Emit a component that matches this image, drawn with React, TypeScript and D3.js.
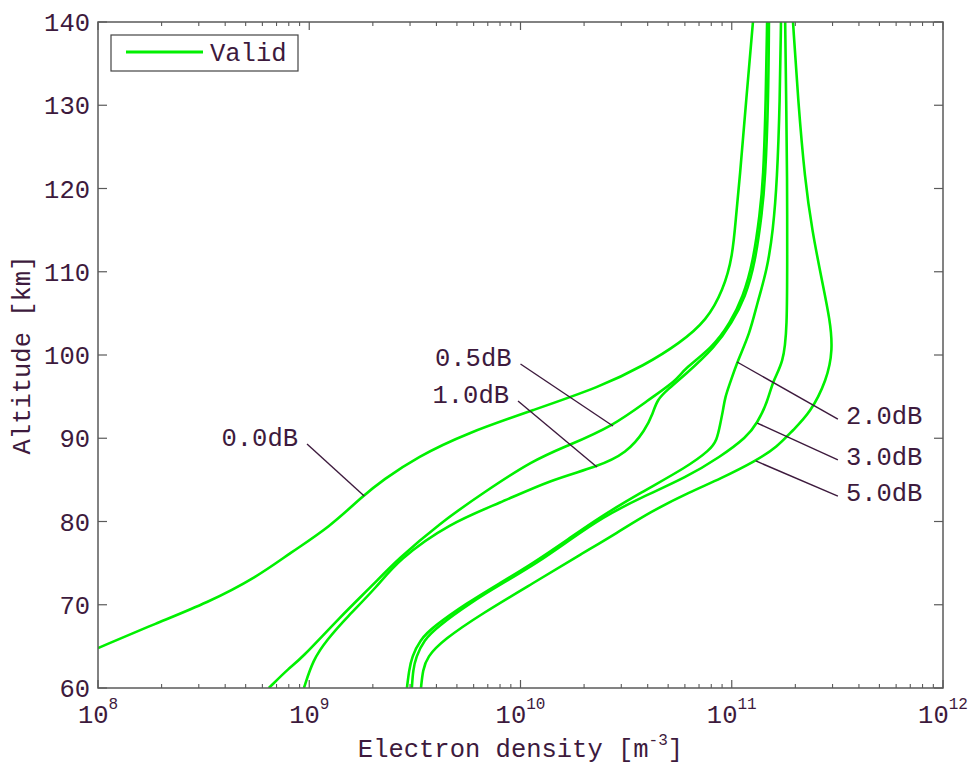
import React from "react";
import * as d3 from "d3";

// [altitude km, electron density m^-3]
const curve00: [number, number][] = [
  [64.8, 1.0e8], [67.81, 1.9e8], [70.21, 3.28e8], [73.33, 5.66e8], [76.22, 8.11e8],
  [79.34, 1.25e9], [83.06, 1.79e9], [84.98, 2.23e9], [87.75, 3.24e9], [90.63, 5.58e9],
  [93.39, 1.15e10], [96.16, 2.38e10], [98.8, 3.88e10], [101.44, 5.69e10], [104.2, 7.64e10],
  [107.81, 9.1e10], [111.77, 1.01e11], [117.06, 1.05e11], [121.02, 1.09e11], [130.6, 1.17e11],
  [140, 1.26e11],
];
const curve05: [number, number][] = [
  [60, 6.44e8], [62.52, 8.11e8], [63.36, 9.04e8], [68.53, 1.4e9], [72.37, 2.0e9],
  [75.38, 2.6e9], [79.82, 4.16e9], [83.42, 6.64e9], [87.39, 1.15e10], [89.07, 1.66e10],
  [91.47, 2.74e10], [94.59, 4.02e10], [97.0, 5.51e10], [98.2, 5.88e10], [100.96, 8.15e10],
  [103.84, 9.82e10], [106.97, 1.13e11], [111.05, 1.26e11], [117.06, 1.36e11], [121.02, 1.41e11],
  [130.6, 1.45e11], [140, 1.47e11],
];
const curve10: [number, number][] = [
  [60, 9.44e8], [63.36, 1.04e9], [65.77, 1.21e9], [68.53, 1.51e9], [72.13, 2.09e9],
  [75.38, 2.63e9], [79.82, 4.63e9], [82.22, 8.0e9], [84.98, 1.38e10], [86.55, 2.3e10],
  [88.23, 3.19e10], [90.99, 3.9e10], [93.03, 4.24e10], [94.59, 4.43e10], [95.8, 4.94e10],
  [97.6, 6.01e10], [100.96, 8.34e10], [103.84, 1.0e11], [106.97, 1.16e11], [111.05, 1.29e11],
  [117.06, 1.39e11], [121.02, 1.44e11], [130.6, 1.49e11], [140, 1.5e11],
];
const curve20: [number, number][] = [
  [60, 2.9e9], [62.16, 2.97e9], [63.72, 3.06e9], [65.77, 3.34e9], [67.33, 3.85e9],
  [70.21, 5.58e9], [72.61, 8.0e9], [75.02, 1.15e10], [77.78, 1.66e10], [80.54, 2.38e10],
  [83.42, 3.68e10], [86.55, 6.14e10], [88.59, 7.89e10], [89.79, 8.51e10], [91.59, 8.8e10],
  [93.39, 9.1e10], [94.95, 9.3e10], [96.64, 9.82e10], [99.16, 1.06e11], [102.64, 1.22e11],
  [106.25, 1.32e11], [110.21, 1.47e11], [115.02, 1.57e11], [121.02, 1.64e11], [130.6, 1.69e11],
  [140, 1.71e11],
];
const curve30: [number, number][] = [
  [60, 3.06e9], [62.16, 3.1e9], [63.72, 3.2e9], [65.77, 3.49e9], [67.33, 4.03e9],
  [70.21, 5.77e9], [72.61, 8.26e9], [75.02, 1.2e10], [77.78, 1.71e10], [80.54, 2.46e10],
  [82.82, 3.68e10], [85.35, 6.14e10], [87.75, 8.8e10], [90.15, 1.18e11], [91.83, 1.32e11],
  [94.23, 1.47e11], [97.0, 1.57e11], [99.04, 1.75e11], [103.0, 1.83e11], [112.6, 1.83e11],
  [121.02, 1.83e11], [130.6, 1.81e11], [140, 1.79e11],
];
const curve50: [number, number][] = [
  [60, 3.38e9], [62.16, 3.45e9], [63.72, 3.61e9], [65.77, 4.3e9], [69.01, 6.64e9],
  [72.61, 1.15e10], [76.22, 1.98e10], [78.62, 2.86e10], [81.14, 4.1e10], [83.54, 6.34e10],
  [85.11, 8.8e10], [87.27, 1.3e11], [88.95, 1.64e11], [90.99, 1.95e11], [93.03, 2.35e11],
  [97.0, 2.82e11], [100.6, 3.01e11], [104.2, 2.92e11], [109.0, 2.67e11], [115.0, 2.4e11],
  [121.02, 2.22e11], [130.6, 2.06e11], [140, 1.95e11],
];

const curves = [curve00, curve05, curve10, curve20, curve30, curve50];

const curveLabels = ["0.0dB", "0.5dB", "1.0dB", "2.0dB", "3.0dB", "5.0dB"];
// leader: from curve point [alt, ne] to label point [alt, ne]
const labelCurvePoints: [number, number][] = [
  [83.06, 1.82e9], [91.47, 2.74e10], [86.55, 2.3e10], [99.16, 1.06e11], [91.83, 1.32e11], [87.27, 1.3e11],
];
const labelTextPoints: [number, number][] = [
  [89.31, 9.76e8], [98.92, 1.0e10], [94.47, 9.73e9], [92.31, 3.18e11], [87.39, 3.18e11], [83.06, 3.18e11],
];
const labelSides = ["left", "left", "left", "right", "right", "right"];

const xDomain: [number, number] = [1e8, 1e12];
const yDomain: [number, number] = [60, 140];
const xMajorTicks = [1e8, 1e9, 1e10, 1e11, 1e12];
const xTickExponents = ["8", "9", "10", "11", "12"];
const yTicks = [60, 70, 80, 90, 100, 110, 120, 130, 140];

const legendLabel = "Valid";
const xAxisLabel = "Electron density [m";
const xAxisSup = "-3";
const yAxisLabel = "Altitude [km]";

const W = 970;
const H = 765;
const M = { left: 98, right: 943, top: 22, bottom: 688 };
const GREEN = "#00f000";
const TEXT = "#3d1a3d";
const AXIS = "#5a5a5a";
const FONT = "'Liberation Mono', 'Courier New', monospace";
const FS = 25.5;

export default function App() {
  const x = d3.scaleLog().domain(xDomain).range([M.left, M.right]);
  const y = d3.scaleLinear().domain(yDomain).range([M.bottom, M.top]);

  const line = d3
    .line<[number, number]>()
    .x((d) => x(d[1]))
    .y((d) => y(d[0]))
    .curve(d3.curveBasis);

  const minorTicks: number[] = [];
  for (let e = 8; e < 12; e++) {
    for (let k = 2; k <= 9; k++) minorTicks.push(k * Math.pow(10, e));
  }

  return (
    <svg
      width={W}
      height={H}
      style={{ position: "absolute", left: 0, top: 0, background: "#fff" }}
      fontFamily={FONT}
    >
      <rect x={0} y={0} width={W} height={H} fill="#fff" />
      <defs>
        <clipPath id="plotclip">
          <rect x={M.left} y={M.top} width={M.right - M.left} height={M.bottom - M.top} />
        </clipPath>
      </defs>

      {/* curves */}
      <g clipPath="url(#plotclip)">
        {curves.map((c, i) => (
          <path key={i} d={line(c) || ""} fill="none" stroke={GREEN} strokeWidth={2.6} strokeLinejoin="round" />
        ))}
      </g>

      {/* frame */}
      <rect
        x={M.left}
        y={M.top}
        width={M.right - M.left}
        height={M.bottom - M.top}
        fill="none"
        stroke={AXIS}
        strokeWidth={1.5}
      />

      {/* y ticks */}
      {yTicks.map((t) => (
        <g key={"y" + t}>
          <line x1={M.left} x2={M.left + 9} y1={y(t)} y2={y(t)} stroke={AXIS} strokeWidth={1.2} />
          <line x1={M.right} x2={M.right - 9} y1={y(t)} y2={y(t)} stroke={AXIS} strokeWidth={1.2} />
          <text x={M.left - 8} y={y(t)} dy="0.36em" textAnchor="end" fontSize={FS} fill={TEXT}>
            {t}
          </text>
        </g>
      ))}

      {/* x ticks */}
      {xMajorTicks.map((t, i) => (
        <g key={"x" + t}>
          <line x1={x(t)} x2={x(t)} y1={M.bottom} y2={M.bottom - 8} stroke={AXIS} strokeWidth={1.2} />
          <line x1={x(t)} x2={x(t)} y1={M.top} y2={M.top + 8} stroke={AXIS} strokeWidth={1.2} />
          <text x={x(t)} y={723} textAnchor="middle" fontSize={FS} fill={TEXT}>
            10
            <tspan dy={-14} fontSize={16}>
              {xTickExponents[i]}
            </tspan>
          </text>
        </g>
      ))}
      {minorTicks.map((t) => (
        <g key={"m" + t}>
          <line x1={x(t)} x2={x(t)} y1={M.bottom} y2={M.bottom - 4} stroke={AXIS} strokeWidth={1.1} />
          <line x1={x(t)} x2={x(t)} y1={M.top} y2={M.top + 4} stroke={AXIS} strokeWidth={1.1} />
        </g>
      ))}

      {/* axis labels */}
      <text x={(M.left + M.right) / 2} y={757} textAnchor="middle" fontSize={FS} fill={TEXT}>
        {xAxisLabel}
        <tspan dy={-12} fontSize={16}>
          {xAxisSup}
        </tspan>
        <tspan dy={12}>]</tspan>
      </text>
      <text
        transform={`translate(30,${(M.top + M.bottom) / 2}) rotate(-90)`}
        textAnchor="middle"
        fontSize={FS}
        fill={TEXT}
      >
        {yAxisLabel}
      </text>

      {/* annotations */}
      {curveLabels.map((lab, i) => {
        const cx = x(labelCurvePoints[i][1]);
        const cy = y(labelCurvePoints[i][0]);
        const tx = x(labelTextPoints[i][1]);
        const ty = y(labelTextPoints[i][0]);
        const left = labelSides[i] === "left";
        return (
          <g key={lab}>
            <line x1={cx} y1={cy} x2={tx} y2={ty} stroke={TEXT} strokeWidth={1.4} />
            <text
              x={left ? tx - 9 : tx + 8}
              y={left ? ty - 7 : ty - 4}
              dy="0.36em"
              textAnchor={left ? "end" : "start"}
              fontSize={FS}
              fill={TEXT}
            >
              {lab}
            </text>
          </g>
        );
      })}

      {/* legend */}
      <rect x={111} y={35} width={187} height={36} fill="#fff" stroke="#444" strokeWidth={1.2} />
      <line x1={126} x2={203} y1={52} y2={52} stroke={GREEN} strokeWidth={3} />
      <text x={210} y={52} dy="0.36em" fontSize={FS} fill={TEXT}>
        {legendLabel}
      </text>
    </svg>
  );
}
